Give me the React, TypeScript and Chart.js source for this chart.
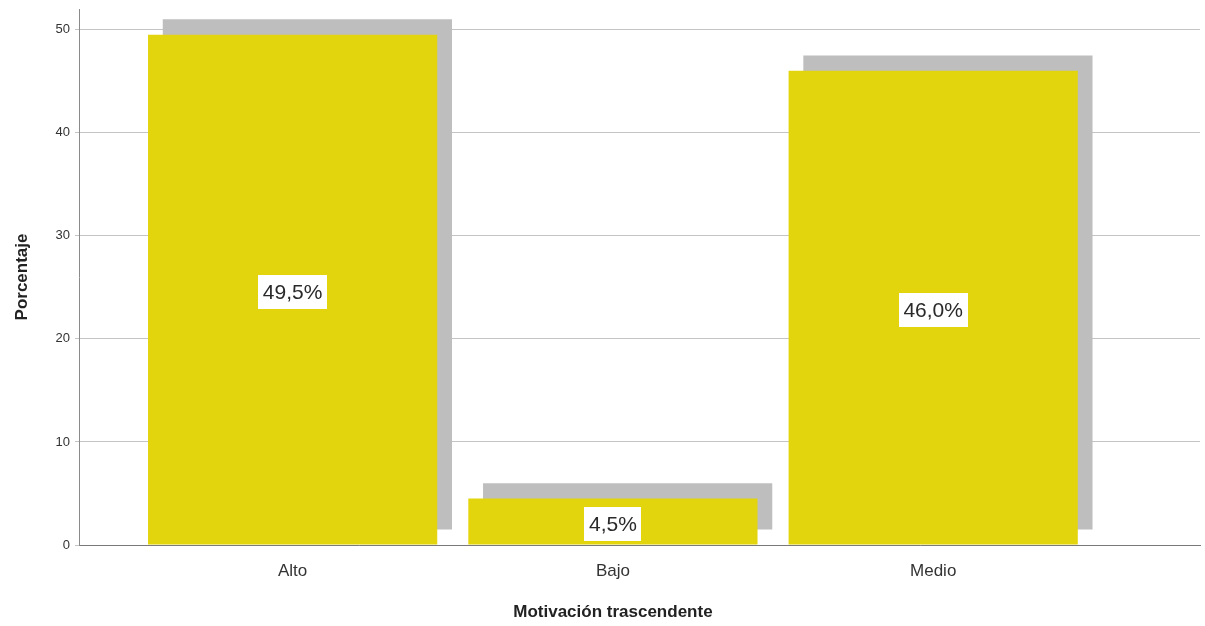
import React, { useEffect, useRef } from "react";
import { Chart, registerables } from "chart.js";

Chart.register(...registerables);

const categories = ["Alto", "Bajo", "Medio"];
const percentages = [49.5, 4.5, 46.0];
const valueLabels = ["49,5%", "4,5%", "46,0%"];
const yTicks = [0, 10, 20, 30, 40, 50];

const Y_MAX = 52;
const X_MIN = -0.667;
const X_MAX = 2.833;
const SHADOW_DX = 0.046;
const SHADOW_DY = 1.5;
const BAR_COLOR = "#E2D50E";
const SHADOW_COLOR = "#BEBEBE";
const FONT = "'Liberation Sans', Arial, sans-serif";

const labelPlugin = {
  id: "valueLabels",
  afterDatasetsDraw(chart: any) {
    const ctx = chart.ctx;
    const meta = chart.getDatasetMeta(0);
    ctx.save();
    ctx.font = `21px ${FONT}`;
    ctx.textAlign = "center";
    ctx.textBaseline = "middle";
    meta.data.forEach((el: any, i: number) => {
      const cx = el.x;
      const cy = (el.y + el.base) / 2 + 2.5;
      const text = valueLabels[i];
      const w = ctx.measureText(text).width + 9;
      const h = 34;
      ctx.fillStyle = "#ffffff";
      ctx.fillRect(Math.round(cx - w / 2), Math.round(cy - h / 2), Math.round(w), h);
      ctx.fillStyle = "#2a2a2a";
      ctx.fillText(text, cx, cy + 1);
    });
    const xs = chart.scales.x;
    const mid = xs.getPixelForValue((categories.length - 1) / 2);
    ctx.font = `bold 17px ${FONT}`;
    ctx.fillStyle = "#222222";
    ctx.fillText("Motivación trascendente", mid, 612);
    ctx.restore();
  },
};

export default function App() {
  const ref = useRef<HTMLCanvasElement>(null);
  useEffect(() => {
    document.body.style.margin = "0";
    const chart = new Chart(ref.current!, {
      type: "bar",
      data: {
        datasets: [
          {
            label: "Porcentaje",
            data: percentages.map((v, i) => ({ x: i, y: v })),
            backgroundColor: BAR_COLOR,
            xAxisID: "x",
            grouped: false,
            order: 0,
            categoryPercentage: 0.903,
            barPercentage: 1,
          } as any,
          {
            label: "sombra",
            data: percentages.map((v, i) => ({ x: i, y: [SHADOW_DY, v + SHADOW_DY] })),
            backgroundColor: SHADOW_COLOR,
            xAxisID: "x2",
            grouped: false,
            order: 1,
            categoryPercentage: 0.903,
            barPercentage: 1,
          } as any,
        ],
      },
      options: {
        animation: false,
        responsive: true,
        maintainAspectRatio: false,
        layout: { padding: { top: 9, right: 5, left: 0, bottom: 0 } },
        plugins: { legend: { display: false }, tooltip: { enabled: false } },
        scales: {
          x: {
            type: "linear",
            offset: false,
            bounds: "data",
            min: X_MIN,
            max: X_MAX,
            afterFit: (s: any) => {
              s.height = 81;
            },
            afterBuildTicks: (s: any) => {
              s.ticks = categories.map((_, i) => ({ value: i }));
            },
            ticks: {
              stepSize: 1,
              includeBounds: false,
              padding: 16,
              font: { size: 17, family: FONT },
              color: "#333333",
              callback: (v: any) => categories[v] ?? "",
            },
            grid: { display: false, drawTicks: false, offset: false },
            border: { display: true, color: "#7a7a7a", width: 1 },
          },
          x2: {
            type: "linear",
            display: false,
            offset: false,
            bounds: "data",
            min: X_MIN - SHADOW_DX,
            max: X_MAX - SHADOW_DX,
            afterBuildTicks: (s: any) => {
              s.ticks = categories.map((_, i) => ({ value: i }));
            },
            ticks: { stepSize: 1, includeBounds: false },
            grid: { offset: false },
          },
          y: {
            min: 0,
            max: Y_MAX,
            afterFit: (s: any) => {
              s.width = 79;
              s.paddingTop = 0;
            },
            afterBuildTicks: (s: any) => {
              s.ticks = yTicks.map((v) => ({ value: v }));
            },
            ticks: {
              padding: 5,
              font: { size: 13, family: FONT },
              color: "#333333",
            },
            grid: { color: "#c4c4c4", tickLength: 4, drawTicks: true },
            border: { display: true, color: "#8a8a8a", width: 1 },
            title: {
              display: true,
              text: "Porcentaje",
              font: { size: 17, weight: "bold", family: FONT },
              color: "#222222",
              padding: { top: 12, bottom: 0 },
            },
          },
        },
      },
      plugins: [labelPlugin],
    });
    return () => chart.destroy();
  }, []);
  return (
    <div style={{ width: 1205, height: 626, position: "relative" }}>
      <canvas ref={ref} />
    </div>
  );
}
